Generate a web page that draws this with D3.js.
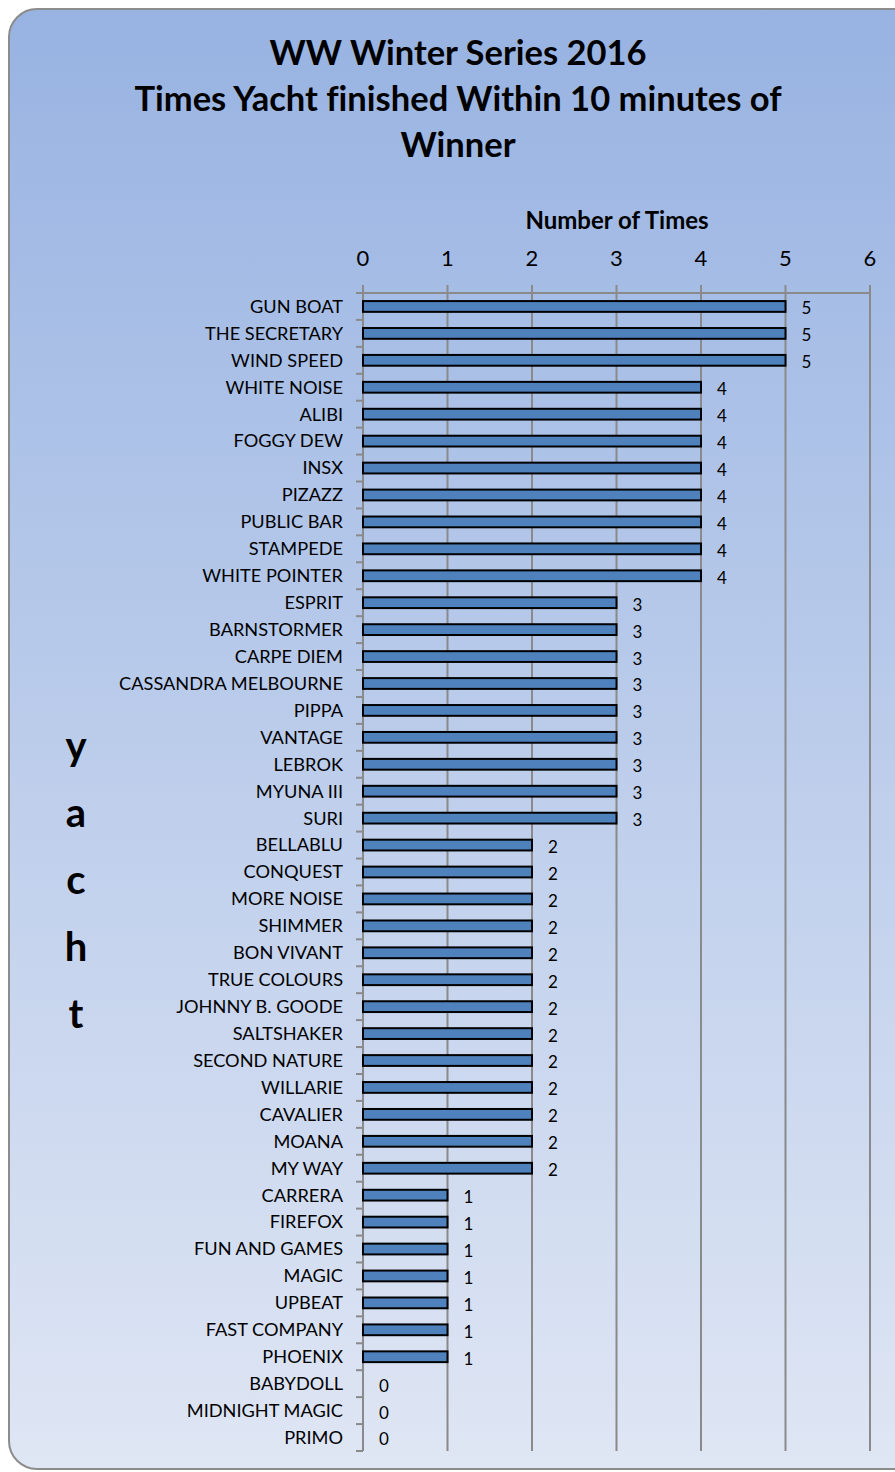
<!DOCTYPE html>
<html>
<head>
<meta charset="utf-8">
<script src="https://cdn.jsdelivr.net/npm/d3@7/dist/d3.min.js"></script>
<style>
  body { margin: 0; background: #fff; }
  svg { display: block; }
</style>
</head>
<body>
<div id="chart"></div>
<script>
var yachts = ["GUN BOAT","THE SECRETARY","WIND SPEED","WHITE NOISE","ALIBI","FOGGY DEW","INSX","PIZAZZ",
  "PUBLIC BAR","STAMPEDE","WHITE POINTER","ESPRIT","BARNSTORMER","CARPE DIEM","CASSANDRA MELBOURNE",
  "PIPPA","VANTAGE","LEBROK","MYUNA III","SURI","BELLABLU","CONQUEST","MORE NOISE","SHIMMER",
  "BON VIVANT","TRUE COLOURS","JOHNNY B. GOODE","SALTSHAKER","SECOND NATURE","WILLARIE","CAVALIER",
  "MOANA","MY WAY","CARRERA","FIREFOX","FUN AND GAMES","MAGIC","UPBEAT","FAST COMPANY","PHOENIX",
  "BABYDOLL","MIDNIGHT MAGIC","PRIMO"];
var times = [5,5,5,4,4,4,4,4,4,4,4,3,3,3,3,3,3,3,3,3,2,2,2,2,2,2,2,2,2,2,2,2,2,1,1,1,1,1,1,1,0,0,0];
var xTicks = [0,1,2,3,4,5,6];
var titleLines = ["WW Winter Series 2016","Times Yacht finished Within 10 minutes of","Winner"];
var axisTitle = "Number of Times";
var yTitle = ["y","a","c","h","t"];

var width = 895, height = 1472;
var svg = d3.select("#chart").append("svg")
    .attr("width", width).attr("height", height)
    .style("font-family", "Lato, 'Open Sans', sans-serif")
    .style("font-variant-numeric", "lining-nums");

var defs = svg.append("defs");
var grad = defs.append("linearGradient").attr("id", "bg")
    .attr("x1", 0).attr("y1", 0).attr("x2", 0).attr("y2", 1);
grad.append("stop").attr("offset", "0%").attr("stop-color", "#98b3e2");
grad.append("stop").attr("offset", "100%").attr("stop-color", "#dfe6f4");

svg.append("rect")
    .attr("x", 9).attr("y", 9)
    .attr("width", 920).attr("height", 1460)
    .attr("rx", 28).attr("ry", 28)
    .attr("fill", "url(#bg)")
    .attr("stroke", "#8c8c8c")
    .attr("stroke-width", 2);

var title = svg.append("g");
title.selectAll("text")
    .data(titleLines).enter()
    .append("text")
    .attr("x", 458)
    .attr("y", function(d, i) { return 65 + i * 46; })
    .attr("text-anchor", "middle")
    .attr("font-size", 34.5)
    .attr("font-weight", "bold")
    .style("font-variant-ligatures", "none")
    .attr("fill", "#000")
    .text(function(d) { return d; });

var plotLeft = 363, plotRight = 870, plotTop = 293, plotBottom = 1451;

var x = d3.scaleLinear().domain([0, 6]).range([plotLeft, plotRight]);
var y = d3.scaleBand().domain(yachts).range([plotTop, plotBottom]).paddingInner(0.6).paddingOuter(0.3);

var grid = svg.append("g");
grid.selectAll("line")
    .data(xTicks).enter()
    .append("line")
    .attr("x1", function(d) { return x(d); })
    .attr("x2", function(d) { return x(d); })
    .attr("y1", plotTop - 8)
    .attr("y2", plotBottom)
    .attr("stroke", "#8a8a8a")
    .attr("stroke-width", 2);

svg.append("line")
    .attr("x1", plotLeft).attr("x2", plotRight)
    .attr("y1", plotTop).attr("y2", plotTop)
    .attr("stroke", "#8a8a8a").attr("stroke-width", 2);

// y axis with category tick marks
var yAxis = svg.append("g");
yAxis.append("line")
    .attr("x1", plotLeft).attr("x2", plotLeft)
    .attr("y1", plotTop).attr("y2", plotBottom)
    .attr("stroke", "#8a8a8a").attr("stroke-width", 2);
var step = (plotBottom - plotTop) / yachts.length;
yAxis.selectAll(".ytick")
    .data(d3.range(yachts.length + 1)).enter()
    .append("line")
    .attr("class", "ytick")
    .attr("x1", plotLeft - 7).attr("x2", plotLeft)
    .attr("y1", function(d) { return plotTop + d * step; })
    .attr("y2", function(d) { return plotTop + d * step; })
    .attr("stroke", "#8a8a8a").attr("stroke-width", 2);

svg.append("g").selectAll("text")
    .data(xTicks).enter()
    .append("text")
    .attr("x", function(d) { return x(d); })
    .attr("y", 266)
    .attr("text-anchor", "middle")
    .attr("font-size", 22)
    .attr("fill", "#000")
    .text(function(d) { return d; });

svg.append("text")
    .attr("x", 617).attr("y", 229)
    .attr("text-anchor", "middle")
    .attr("font-size", 24)
    .attr("font-weight", "bold")
    .text(axisTitle);

svg.append("g").selectAll("text")
    .data(yTitle).enter()
    .append("text")
    .attr("x", 76)
    .attr("y", function(d, i) { return 760 + i * 67; })
    .attr("text-anchor", "middle")
    .attr("font-size", 40)
    .attr("font-weight", "bold")
    .text(function(d) { return d; });

var bars = svg.append("g");
bars.selectAll("rect")
    .data(times).enter()
    .append("rect")
    .filter(function(d) { return d > 0; })
    .attr("x", x(0))
    .attr("y", function(d, i) { return y(yachts[i]); })
    .attr("width", function(d) { return x(d) - x(0); })
    .attr("height", y.bandwidth())
    .attr("fill", "#4f81bd")
    .attr("stroke", "#000")
    .attr("stroke-width", 2);

svg.append("g").selectAll("text")
    .data(yachts).enter()
    .append("text")
    .attr("x", 343)
    .attr("y", function(d) { return y(d) + y.bandwidth() / 2; })
    .attr("dy", "0.35em")
    .attr("text-anchor", "end")
    .attr("font-size", 18.2)
    .attr("fill", "#000")
    .text(function(d) { return d; });

svg.append("g").selectAll("text")
    .data(times).enter()
    .append("text")
    .attr("x", function(d) { return x(d) + 21; })
    .attr("y", function(d, i) { return y(yachts[i]) + y.bandwidth() / 2 + 2; })
    .attr("dy", "0.35em")
    .attr("text-anchor", "middle")
    .attr("font-size", 17)
    .attr("fill", "#000")
    .text(function(d) { return d; });
</script>
</body>
</html>
